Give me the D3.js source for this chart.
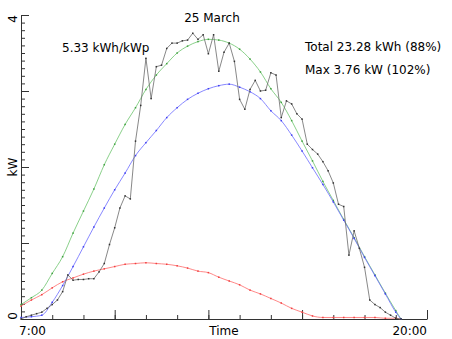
<!DOCTYPE html>
<html>
<head>
<meta charset="utf-8">
<script src="https://cdn.jsdelivr.net/npm/d3@7"></script>
<style>
body { margin: 0; background: #fff; }
text { font-family: "DejaVu Sans", sans-serif; font-size: 12px; fill: #000; }
</style>
</head>
<body>
<div id="chart"></div>
<script>
// measured output, kW, every 10 min from 7:00 to 19:10
var measured = [0.00, 0.03, 0.05, 0.07, 0.09, 0.14, 0.19, 0.25, 0.36, 0.58,
  0.51, 0.52, 0.52, 0.53, 0.53, 0.62, 0.73, 0.98, 1.20, 1.46,
  1.62, 1.58, 2.34, 2.81, 3.43, 2.90, 3.32, 3.34, 3.56, 3.63,
  3.63, 3.66, 3.67, 3.76, 3.68, 3.74, 3.49, 3.74, 3.26, 3.51,
  3.63, 3.39, 2.89, 2.76, 3.02, 3.14, 3.00, 3.01, 3.24, 3.21,
  2.65, 2.87, 2.83, 2.70, 2.63, 2.30, 2.23, 2.17, 2.07, 1.95,
  1.79, 1.51, 1.48, 0.84, 1.16, 0.93, 0.68, 0.25, 0.19, 0.15,
  0.09, 0.05, 0.01, 0.00];

// model curves, kW, every 20 min from 7:00 to 19:00, then 19:10
var clearSky = [0.19, 0.28, 0.38, 0.60, 0.82, 1.13, 1.42, 1.71, 2.03, 2.30,
  2.56, 2.78, 3.02, 3.21, 3.36, 3.50, 3.59, 3.65, 3.68, 3.67,
  3.63, 3.55, 3.42, 3.25, 3.03, 2.85, 2.61, 2.34, 2.08, 1.81,
  1.56, 1.31, 1.07, 0.82, 0.58, 0.34, 0.11, 0.00];
var direct = [0.02, 0.03, 0.05, 0.22, 0.44, 0.69, 0.95, 1.21, 1.46, 1.70,
  1.92, 2.15, 2.32, 2.48, 2.65, 2.78, 2.89, 2.97, 3.03, 3.07,
  3.09, 3.05, 2.99, 2.90, 2.74, 2.61, 2.42, 2.21, 1.99, 1.77,
  1.54, 1.30, 1.06, 0.81, 0.57, 0.33, 0.09, 0.00];
var diffuse = [0.17, 0.25, 0.32, 0.41, 0.49, 0.54, 0.59, 0.63, 0.66, 0.69,
  0.72, 0.73, 0.74, 0.73, 0.72, 0.70, 0.67, 0.63, 0.61, 0.55,
  0.50, 0.45, 0.38, 0.33, 0.27, 0.21, 0.14, 0.09, 0.04, 0.02,
  0.02, 0.02, 0.02, 0.02, 0.02, 0.01, 0.01, 0.00];

var measuredTimes = measured.map((d, i) => 7 + i / 6);
var modelTimes = clearSky.map((d, i) => i < 37 ? 7 + i / 3 : 19 + 1 / 6);

var title = "25 March";
var yieldText = "5.33 kWh/kWp";
var totalText = "Total 23.28 kWh (88%)";
var maxText = "Max 3.76 kW (102%)";

var width = 452, height = 339;
var svg = d3.select("#chart").append("svg")
    .attr("width", width)
    .attr("height", height);

var x = d3.scaleLinear().domain([7, 20]).range([21, 427]);
var y = d3.scaleLinear().domain([0, 4]).range([319, 15]);

// axes, ticks pointing inwards
var hours = d3.range(7, 21);
var axisG = svg.append("g").attr("class", "axes");

axisG.append("g")
    .attr("transform", "translate(0," + y(0) + ")")
    .call(d3.axisBottom(x).tickValues(hours).tickSize(-4).tickSizeOuter(0).tickFormat(""));
axisG.append("g")
    .attr("transform", "translate(0," + y(0) + ")")
    .call(d3.axisBottom(x).tickValues([10, 13, 16, 20]).tickSize(-9).tickSizeOuter(0).tickFormat(""))
    .select(".domain").remove();

axisG.append("g")
    .attr("transform", "translate(" + x(7) + ",0)")
    .call(d3.axisLeft(y).tickValues(d3.range(0, 41).map(d => d / 10)).tickSize(-4).tickSizeOuter(0).tickFormat(""));
axisG.append("g")
    .attr("transform", "translate(" + x(7) + ",0)")
    .call(d3.axisLeft(y).tickValues([0, 1, 2, 3, 4]).tickSize(-8).tickSizeOuter(0).tickFormat(""))
    .select(".domain").remove();

axisG.selectAll("path, line").attr("stroke", "#333").attr("stroke-width", 1);

// tick labels
svg.append("text").attr("x", 19).attr("y", 335).text("7:00");
svg.append("text").attr("x", 427).attr("y", 335).attr("text-anchor", "end").text("20:00");
svg.append("text").attr("x", 224).attr("y", 335).attr("text-anchor", "middle").text("Time");

svg.append("text")
    .attr("transform", "translate(17," + (y(4) + 4) + ") rotate(-90)")
    .attr("text-anchor", "middle").text("4");
svg.append("text")
    .attr("transform", "translate(17," + (y(0) - 3) + ") rotate(-90)")
    .attr("text-anchor", "middle").text("0");
svg.append("text")
    .attr("transform", "translate(17," + y(2) + ") rotate(-90)")
    .attr("text-anchor", "middle").text("kW");

// series
function drawSeries(times, values, color, dotColor, curve) {
    var pts = times.map((t, i) => [t, values[i]]);
    var line = d3.line()
        .x(d => x(d[0]))
        .y(d => y(d[1]))
        .curve(curve);
    svg.append("path")
        .datum(pts)
        .attr("fill", "none")
        .attr("stroke", color)
        .attr("stroke-width", 0.8)
        .attr("d", line);
    svg.append("g")
        .selectAll("rect")
        .data(pts)
        .join("rect")
        .attr("x", d => x(d[0]) - 0.75)
        .attr("y", d => y(d[1]) - 0.75)
        .attr("width", 1.5)
        .attr("height", 1.5)
        .attr("fill", dotColor);
}

drawSeries(modelTimes, diffuse, "#ff6a6a", "#f04040", d3.curveMonotoneX);
drawSeries(modelTimes, clearSky, "#6cc46c", "#40a040", d3.curveMonotoneX);
drawSeries(modelTimes, direct, "#6a6aff", "#4040f0", d3.curveMonotoneX);
drawSeries(measuredTimes, measured, "#6a6a6a", "#333333", d3.curveLinear);

// annotations
svg.append("text").attr("x", 212).attr("y", 22).attr("text-anchor", "middle").text(title);
svg.append("text").attr("x", 62).attr("y", 52).text(yieldText);
svg.append("text").attr("x", 305).attr("y", 51).text(totalText);
svg.append("text").attr("x", 305).attr("y", 74).text(maxText);
</script>
</body>
</html>
